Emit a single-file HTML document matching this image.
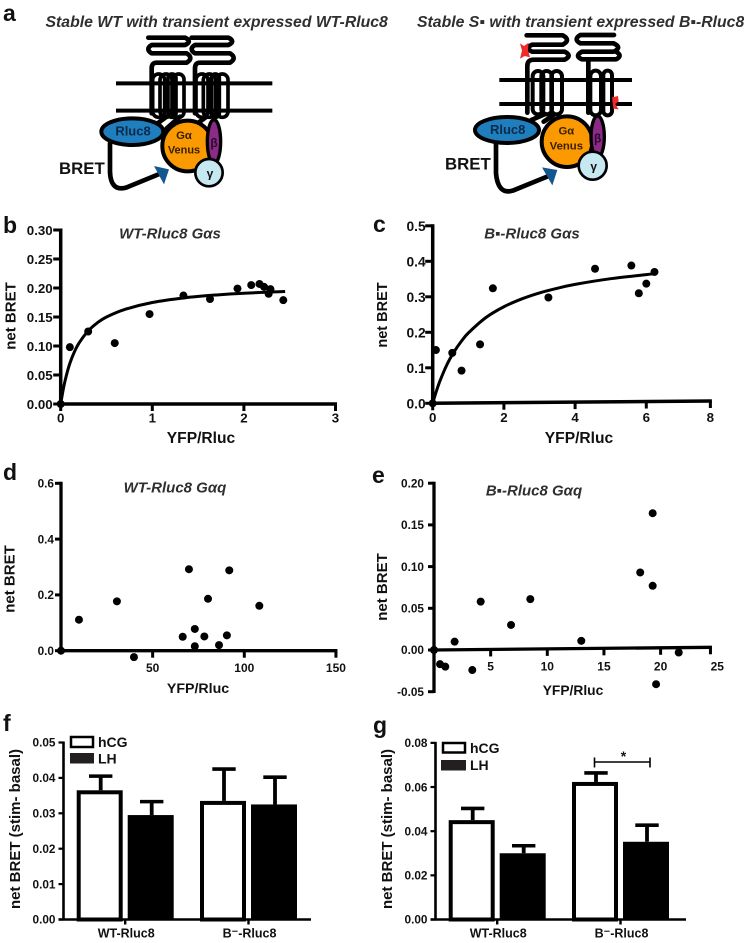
<!DOCTYPE html>
<html lang="en">
<head>
<meta charset="utf-8">
<title>BRET figure</title>
<style>
html,body{margin:0;padding:0;background:#fff;}
svg{display:block;}
text{font-family:"Liberation Sans",sans-serif;font-weight:bold;fill:#111;}
.ttl{font-style:italic;fill:#2f2f2f;}
.rcp{fill:none;stroke:#000;stroke-width:14;stroke-linecap:round;stroke-linejoin:round;}
.mem{fill:none;stroke:#000;stroke-width:12;}
</style>
</head>
<body>
<svg id="fig" xmlns="http://www.w3.org/2000/svg" width="744" height="943" viewBox="0 0 744 943">
<rect width="744" height="943" fill="#fff"/>

<text x="3" y="21" font-size="23">a</text>
<text class="ttl" x="45.500" y="27" font-size="15.8">Stable WT with transient expressed WT-Rluc8</text>
<text class="ttl" x="417" y="27" font-size="15.8">Stable S▪ with transient expressed B▪-Rluc8</text>

<g transform="scale(0.33333)">
  <path class="mem" d="M348 250H817M348 332H817"/>
  <path class="rcp" d="M445 113H555Q578 124 555 135H455Q435 147 455 160H560Q582 174 560 188H470Q455 188 455 205V340"/>
  <path class="rcp" d="M575 113H685Q708 124 685 135H585Q565 147 585 160H690Q712 174 690 188H600Q585 188 585 205V340"/>
  <g class="rcp" style="stroke-width:11">
    <rect x="458" y="222" width="36" height="130" rx="18"/><rect x="480" y="222" width="36" height="130" rx="18"/><rect x="504" y="222" width="24" height="130" rx="12"/><rect x="520" y="222" width="32" height="130" rx="16"/>
  </g>
  <g class="rcp" style="stroke-width:11">
    <rect x="588" y="222" width="36" height="130" rx="18"/><rect x="610" y="222" width="36" height="130" rx="18"/><rect x="634" y="222" width="24" height="130" rx="12"/><rect x="650" y="222" width="34" height="130" rx="17"/>
  </g>
  <path class="rcp" d="M500 350L470 372M540 350L500 385M620 350L590 372"/>
  <ellipse cx="397" cy="395" rx="93" ry="40" fill="#1f7ebd" stroke="#000" stroke-width="12"/>
  <text x="399" y="406" font-size="39" text-anchor="middle" style="fill:#0c2a4a">Rluc8</text>
  <circle cx="563" cy="438" r="76" fill="#fb9a00" stroke="#000" stroke-width="12"/>
  <text x="552" y="417" font-size="34" text-anchor="middle" style="fill:#3a2000">Gα</text>
  <text x="552" y="461" font-size="33" text-anchor="middle" style="fill:#3a2000">Venus</text>
  <ellipse cx="642" cy="425" rx="20" ry="66" fill="#8c2a88" stroke="#000" stroke-width="10"/>
  <text x="642" y="441" font-size="36" text-anchor="middle" style="fill:#2a0a2a">β</text>
  <circle cx="627" cy="518" r="41" fill="#c6e8f1" stroke="#000" stroke-width="8"/>
  <text x="630" y="532" font-size="36" text-anchor="middle">γ</text>
  <path class="rcp" d="M330 430V515Q332 575 378 563L478 522"/>
  <path d="M462 498L507 508L492 553Z" fill="#14578f"/>
  <text x="177" y="522" font-size="50.5">BRET</text>
</g>

<g transform="translate(372,0) scale(0.33333)">
  <path class="mem" d="M382 240H780M382 312H780"/>
  <path class="rcp" d="M464 106H572Q598 120 572 134H480Q458 145 480 155H578Q602 167 578 179H485Q466 179 466 198V338"/>
  <path class="rcp" d="M726 105H625Q603 118 625 130H725Q752 142 725 155H630Q606 168 630 178H732Q752 168 735 157M649 180V338"/>
  <g class="rcp" style="stroke-width:12">
    <rect x="482" y="213" width="32" height="130" rx="16"/><rect x="508" y="213" width="32" height="130" rx="16"/><rect x="538" y="213" width="32" height="130" rx="16"/>
  </g>
  <g class="rcp" style="stroke-width:12">
    <rect x="655" y="212" width="32" height="134" rx="16"/><rect x="694" y="212" width="26" height="134" rx="13"/>
  </g>
  <path class="rcp" d="M520 342L478 360M545 345L515 365"/>
  <path d="M444 130L456 138L470 128L468 150L474 172L458 168L444 176L450 152Z" fill="#ee2a2a"/>
  <path d="M720 292L738 288L740 304L730 312L740 328L724 326Z" fill="#ee2a2a"/>
  <ellipse cx="405" cy="390" rx="96" ry="39" fill="#1f7ebd" stroke="#000" stroke-width="12"/>
  <text x="407" y="402" font-size="39" text-anchor="middle" style="fill:#0c2a4a">Rluc8</text>
  <circle cx="585" cy="425" r="76" fill="#fb9a00" stroke="#000" stroke-width="12"/>
  <text x="583" y="404" font-size="34" text-anchor="middle" style="fill:#3a2000">Gα</text>
  <text x="583" y="448" font-size="34" text-anchor="middle" style="fill:#3a2000">Venus</text>
  <ellipse cx="677" cy="410" rx="20" ry="62" fill="#8c2a88" stroke="#000" stroke-width="10"/>
  <text x="677" y="427" font-size="36" text-anchor="middle" style="fill:#2a0a2a">β</text>
  <circle cx="662" cy="497" r="42" fill="#c6e8f1" stroke="#000" stroke-width="8"/>
  <text x="665" y="511" font-size="36" text-anchor="middle">γ</text>
  <path class="rcp" d="M372 432V520Q378 585 422 572L530 528"/>
  <path d="M510 502L556 510L541 556Z" fill="#14578f"/>
  <text x="219" y="508" font-size="50.5">BRET</text>
</g>

<text x="3" y="233" font-size="23">b</text>
<text x="373" y="232" font-size="23">c</text>
<text x="3" y="480" font-size="23">d</text>
<text x="372" y="483" font-size="23">e</text>
<text x="3" y="731" font-size="23">f</text>
<text x="373" y="733" font-size="23">g</text>

<text class="ttl" x="170" y="238.500" font-size="15" text-anchor="middle">WT-Rluc8 Gαs</text>
<text class="ttl" x="532" y="238.500" font-size="15" text-anchor="middle">B▪-Rluc8 Gαs</text>
<text class="ttl" x="175" y="492.500" font-size="15" text-anchor="middle">WT-Rluc8 Gαq</text>
<text class="ttl" x="534" y="495.500" font-size="15" text-anchor="middle">B▪-Rluc8 Gαq</text>

<text transform="translate(15.5,316) rotate(-90)" font-size="15" text-anchor="middle">net BRET</text>
<text transform="translate(387,315) rotate(-90)" font-size="14.5" text-anchor="middle">net BRET</text>
<text transform="translate(14.5,579) rotate(-90)" font-size="15" text-anchor="middle">net BRET</text>
<text transform="translate(387,587) rotate(-90)" font-size="15" text-anchor="middle">net BRET</text>
<text transform="translate(20,829) rotate(-90)" font-size="15" text-anchor="middle">net BRET (stim- basal)</text>
<text transform="translate(392,829) rotate(-90)" font-size="15" text-anchor="middle">net BRET (stim- basal)</text>

<text x="201" y="443" font-size="15.6" text-anchor="middle">YFP/Rluc</text>
<text x="579" y="443" font-size="15.6" text-anchor="middle">YFP/Rluc</text>
<text x="198" y="693" font-size="14.2" text-anchor="middle">YFP/Rluc</text>
<text x="573" y="695" font-size="13.8" text-anchor="middle">YFP/Rluc</text>

<rect x="71" y="737" width="22" height="10" fill="#fff" stroke="#000" stroke-width="2.5"/>
<text x="98" y="747" font-size="14">hCG</text>
<rect x="70" y="753" width="24" height="10.5" fill="#231f20"/>
<text x="98" y="763.500" font-size="14">LH</text>

<rect x="443" y="743" width="22" height="9.500" fill="#fff" stroke="#000" stroke-width="2.5"/>
<text x="470" y="753" font-size="14">hCG</text>
<rect x="441" y="760" width="25" height="10.5" fill="#231f20"/>
<text x="470" y="770" font-size="14">LH</text>

<path d="M594.500 762H650M650 757.500V767.500M594.500 757.500V767.500" fill="none" stroke="#000" stroke-width="1.6"/>
<text x="623.500" y="761" font-size="14" text-anchor="middle">*</text>

<g id="plots"></g>
</svg>

<script>
/* Panel b */
const bX = [0, 0.10, 0.30, 0.59, 0.97, 1.34, 1.63, 1.93, 2.08, 2.17, 2.22, 2.27, 2.29, 2.43];
const bY = [0, 0.098, 0.125, 0.105, 0.155, 0.187, 0.181, 0.199, 0.205, 0.207, 0.202, 0.190, 0.198, 0.179];
const bCurveX = [0, 0.03, 0.06, 0.10, 0.15, 0.20, 0.30, 0.40, 0.50, 0.70, 1.00, 1.35, 1.70, 2.00, 2.45];
const bCurveY = [0, 0.027, 0.048, 0.070, 0.090, 0.105, 0.126, 0.140, 0.150, 0.163, 0.175, 0.183, 0.188, 0.191, 0.194];
const bYTicks = [0, 0.05, 0.10, 0.15, 0.20, 0.25, 0.30];
const bYLabels = ["0.00", "0.05", "0.10", "0.15", "0.20", "0.25", "0.30"];
const bXTicks = [0, 1, 2, 3];
const bXLabels = ["0", "1", "2", "3"];

/* Panel c */
const cX = [0, 0.09, 0.55, 0.81, 1.33, 1.69, 3.25, 4.56, 5.58, 5.79, 6.00, 6.23];
const cY = [0, 0.150, 0.142, 0.092, 0.166, 0.324, 0.298, 0.379, 0.388, 0.310, 0.337, 0.370];
const cCurveX = [0, 0.1, 0.2, 0.4, 0.6, 0.8, 1, 1.5, 2, 2.5, 3, 3.5, 4, 5, 6, 6.25];
const cCurveY = [0, 0.033, 0.062, 0.109, 0.145, 0.174, 0.198, 0.242, 0.272, 0.294, 0.311, 0.324, 0.335, 0.351, 0.3625, 0.365];
const cYTicks = [0, 0.1, 0.2, 0.3, 0.4, 0.5];
const cYLabels = ["0.0", "0.1", "0.2", "0.3", "0.4", "0.5"];
const cXTicks = [0, 2, 4, 6, 7.8];
const cXLabels = ["0", "2", "4", "6", "8"];

/* Panel d */
const dX = [0, 9.8, 30.5, 39.8, 66.4, 73, 69.8, 73, 78.2, 80.2, 86.2, 90.5, 91.8, 108.2];
const dY = [0, 0.111, 0.177, -0.023, 0.050, 0.078, 0.292, 0.016, 0.051, 0.186, 0.020, 0.055, 0.288, 0.161];
const dYTicks = [0, 0.2, 0.4, 0.6];
const dYLabels = ["0.0", "0.2", "0.4", "0.6"];
const dXTicks = [50, 100, 150];
const dXLabels = ["50", "100", "150"];

/* Panel e */
const eX = [0, 0.53, 1.0, 1.82, 3.38, 4.12, 6.8, 8.5, 13, 18.2, 19.3, 19.3, 19.6, 21.6];
const eY = [0, -0.017, -0.020, 0.010, -0.024, 0.058, 0.030, 0.061, 0.011, 0.093, 0.164, 0.077, -0.041, -0.003];
const eYTicks = [-0.05, 0, 0.05, 0.10, 0.15, 0.20];
const eYLabels = ["-0.05", "0.00", "0.05", "0.10", "0.15", "0.20"];
const eXTicks = [5, 10, 15, 20, 24.4];
const eXLabels = ["5", "10", "15", "20", "25"];

/* Panel f */
const fCategories = ["WT-Rluc8", "B⁻-Rluc8"];
const fHcg = [0.0365, 0.0335];
const fLh = [0.0295, 0.0325];
const fHcgErr = [0.0040, 0.0090];
const fLhErr = [0.0038, 0.0077];
const fYTicks = [0, 0.01, 0.02, 0.03, 0.04, 0.05];
const fYLabels = ["0.00", "0.01", "0.02", "0.03", "0.04", "0.05"];

/* Panel g */
const gCategories = ["WT-Rluc8", "B⁻-Rluc8"];
const gHcg = [0.0450, 0.0623];
const gLh = [0.0300, 0.0352];
const gHcgErr = [0.0053, 0.0041];
const gLhErr = [0.0034, 0.0075];
const gYTicks = [0, 0.02, 0.04, 0.06, 0.08];
const gYLabels = ["0.00", "0.02", "0.04", "0.06", "0.08"];

const NS = "http://www.w3.org/2000/svg";
const root = document.getElementById("plots");

function make(parent, tag, attrs, text) {
  const node = document.createElementNS(NS, tag);
  for (const k in attrs) node.setAttribute(k, attrs[k]);
  if (text !== undefined) node.textContent = text;
  parent.appendChild(node);
  return node;
}

function smoothPath(pts) {
  let d = "M" + pts[0][0].toFixed(2) + " " + pts[0][1].toFixed(2);
  for (let i = 0; i < pts.length - 1; i++) {
    const p0 = pts[Math.max(i - 1, 0)];
    const p1 = pts[i];
    const p2 = pts[i + 1];
    const p3 = pts[Math.min(i + 2, pts.length - 1)];
    const c1x = p1[0] + (p2[0] - p0[0]) / 6;
    const c1y = p1[1] + (p2[1] - p0[1]) / 6;
    const c2x = p2[0] - (p3[0] - p1[0]) / 6;
    const c2y = p2[1] - (p3[1] - p1[1]) / 6;
    d += "C" + c1x.toFixed(2) + " " + c1y.toFixed(2) + " " + c2x.toFixed(2) + " " + c2y.toFixed(2) + " " + p2[0].toFixed(2) + " " + p2[1].toFixed(2);
  }
  return d;
}

function drawAxes(g, o, sx, sy) {
  const endX = sx(o.xEnd);
  const xLine = make(g, "line", {x1: o.x0 - 1.5, y1: o.y0, x2: endX + 1.5, y2: o.y0 - o.rise, stroke: "#000", "stroke-width": o.axisW});
  
  
  const yLine = make(g, "line", {x1: o.x0, y1: sy(o.yTop) - 1.5, x2: o.x0, y2: o.yBottomPx, stroke: "#000", "stroke-width": o.axisW});
  
  
  o.yTicks.forEach(function (v, i) {
    const y = sy(v);
    const t = make(g, "line", {x1: o.x0 - o.yTickLen, y1: y, x2: o.x0, y2: y, stroke: "#000", "stroke-width": 3});
    
    
    const l = make(g, "text", {x: o.x0 - o.yLabelGap, y: y, dy: "0.36em", "text-anchor": "end", "font-size": o.yFont}, o.yLabels[i]);
    
    
  });
  if (o.xTicks) {
    o.xTicks.forEach(function (v, i) {
      const x = sx(v);
      const yAt = o.y0 - o.rise * (x - o.x0) / (endX - o.x0);
      const t = make(g, "line", {x1: x, y1: yAt, x2: x, y2: yAt + 7, stroke: "#000", "stroke-width": 3});
      
      
      const lx = sx(o.xLabelAt ? o.xLabelAt[i] : v);
      const l = make(g, "text", {x: lx, y: o.y0 + o.xLabelGap, dy: "0.36em", "text-anchor": "middle", "font-size": o.xFont}, o.xLabels[i]);
      
      
    });
  }
}

function drawScatter(name, o, xs, ys, curveX, curveY) {
  const g = make(root, "g", {});
  
  
  const sx = function (v) { return o.x0 + v * o.xScale; };
  const sy = function (v) { return o.y0 - v * o.yScale; };
  drawAxes(g, o, sx, sy);
  if (curveX) {
    const pts = curveX.map(function (v, i) { return [sx(v), sy(curveY[i])]; });
    const c = make(g, "path", {d: smoothPath(pts), fill: "none", stroke: "#000", "stroke-width": 3, "stroke-linejoin": "round"});
    
    
  }
  xs.forEach(function (v, i) {
    const p = make(g, "circle", {cx: sx(v), cy: sy(ys[i]), r: 4, fill: "#000"});
    
    
  });
}

function drawBars(name, o, cats, hcg, lh, hcgErr, lhErr) {
  const g = make(root, "g", {});
  
  
  const sy = function (v) { return o.y0 - v * o.yScale; };
  const sx = function (v) { return o.x0 + v; };
  const barW = 46;
  const one = function (left, value, err, open) {
    const top = sy(value);
    const whisk = left + barW / 2 + 1;
    const e = make(g, "line", {x1: whisk, y1: top, x2: whisk, y2: sy(value + err), stroke: "#000", "stroke-width": 3.8});
    
    
    const cap = make(g, "line", {x1: whisk - 11.7, y1: sy(value + err), x2: whisk + 11.7, y2: sy(value + err), stroke: "#000", "stroke-width": 3.6});
    
    
    if (open) {
      const r = make(g, "rect", {x: left + 2, y: top + 2, width: barW - 4, height: o.y0 - top - 2, fill: "#fff", stroke: "#000", "stroke-width": 4});
      
      
    } else {
      const r = make(g, "rect", {x: left, y: top, width: barW, height: o.y0 - top, fill: "#000"});
      
      
    }
  };
  cats.forEach(function (label, i) {
    const left = sx(o.firstBar + i * o.groupStep);
    one(left, hcg[i], hcgErr[i], true);
    one(left + o.seriesStep, lh[i], lhErr[i], false);
    const cx = left + o.tickOffset;
    const t = make(g, "line", {x1: cx, y1: o.y0, x2: cx, y2: o.y0 + 5, stroke: "#000", "stroke-width": 2.4});
    
    
    const l = make(g, "text", {x: cx + 1, y: o.y0 + 18, "text-anchor": "middle", "font-size": 12.5}, label);
    
    
  });
  const xa = make(g, "line", {x1: o.x0 - 5, y1: o.y0, x2: o.xEndPx, y2: o.y0, stroke: "#000", "stroke-width": 2.4});
  
  
  const ya = make(g, "line", {x1: o.x0, y1: sy(o.yTop) - 1, x2: o.x0, y2: o.y0, stroke: "#000", "stroke-width": 2.6});
  
  
  o.yTicks.forEach(function (v, i) {
    const y = sy(v);
    const t = make(g, "line", {x1: o.x0 - 5, y1: y, x2: o.x0, y2: y, stroke: "#000", "stroke-width": 2.2});
    
    
    const lab = make(g, "text", {x: o.x0 - 8, y: y, dy: "0.36em", "text-anchor": "end", "font-size": 11.8}, o.yLabels[i]);
    
    
  });
}

drawScatter("chart-b", {x0: 60.7, y0: 404, xScale: 91.6, yScale: 580, xEnd: 3, yTop: 0.30, yBottomPx: 405.5, rise: 0, axisW: 3.5, yTickLen: 7.5, yLabelGap: 8, yFont: 13.3, xFont: 13.3, xLabelGap: 13.5, yTicks: bYTicks, yLabels: bYLabels, xTicks: bXTicks, xLabels: bXLabels}, bX, bY, bCurveX, bCurveY);

drawScatter("chart-c", {x0: 432.7, y0: 403.3, xScale: 35.6, yScale: 355, xEnd: 7.8, yTop: 0.5, yBottomPx: 404.8, rise: 2.3, axisW: 3.5, yTickLen: 7.5, yLabelGap: 7, yFont: 13.8, xFont: 13.3, xLabelGap: 14, yTicks: cYTicks, yLabels: cYLabels, xTicks: cXTicks, xLabels: cXLabels}, cX, cY, cCurveX, cCurveY);

drawScatter("chart-d", {x0: 61, y0: 650.7, xScale: 1.833, yScale: 279, xEnd: 150, yTop: 0.6, yBottomPx: 652.2, rise: 0, axisW: 3.3, yTickLen: 6, yLabelGap: 7, yFont: 11.8, xFont: 12, xLabelGap: 17, yTicks: dYTicks, yLabels: dYLabels, xTicks: dXTicks, xLabels: dXLabels}, dX, dY);

drawScatter("chart-e", {x0: 434, y0: 650, xScale: 11.33, yScale: 834, xEnd: 24.4, yTop: 0.20, yBottomPx: 693, rise: 2.7, axisW: 3.3, yTickLen: 6, yLabelGap: 10, yFont: 11.8, xFont: 12, xLabelGap: 16, yTicks: eYTicks, yLabels: eYLabels, xTicks: eXTicks, xLabels: eXLabels, xLabelAt: [5, 10, 15, 20, 25]}, eX, eY);

drawBars("chart-f", {x0: 63.5, y0: 919.5, yScale: 3540, yTop: 0.05, firstBar: 13.2, groupStep: 123.3, seriesStep: 51, tickOffset: 48.5, xEndPx: 311, yTicks: fYTicks, yLabels: fYLabels}, fCategories, fHcg, fLh, fHcgErr, fLhErr);

drawBars("chart-g", {x0: 435.5, y0: 919.5, yScale: 2208, yTop: 0.08, firstBar: 13.2, groupStep: 123.3, seriesStep: 51, tickOffset: 48.5, xEndPx: 686, yTicks: gYTicks, yLabels: gYLabels}, gCategories, gHcg, gLh, gHcgErr, gLhErr);
</script>
</body>
</html>
